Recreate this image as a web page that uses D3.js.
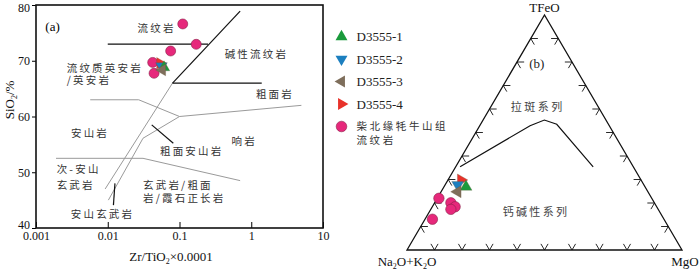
<!DOCTYPE html>
<html>
<head>
<meta charset="utf-8">
<script src="https://cdn.jsdelivr.net/npm/d3@7"></script>
<style>body{margin:0;background:#fff}</style>
</head>
<body>
<script>
// (a) Zr/TiO2 - SiO2 data
const rhyZr = [0.111, 0.171, 0.0753, 0.0423, 0.0442];
const rhySiO2 = [76.6, 72.95, 71.75, 69.7, 67.75];
const sampleNames = ["D3555-1", "D3555-2", "D3555-3", "D3555-4"];
const sampleZr = [0.0608, 0.0561, 0.0575, 0.0535];
const sampleSiO2 = [68.8, 69.06, 68.34, 69.54];

// (b) AFM data (Na2O+K2O, TFeO, MgO)
const rhyA = [0.774, 0.74, 0.733, 0.754, 0.842];
const rhyF = [0.22, 0.201, 0.184, 0.173, 0.131];
const rhyM = [0.006, 0.059, 0.083, 0.073, 0.027];
const sampleA = [0.651, 0.677, 0.692, 0.655];
const sampleF = [0.269, 0.277, 0.248, 0.298];
const sampleM = [0.08, 0.046, 0.06, 0.047];

// tholeiitic / calc-alkaline boundary
const boundaryA = [0.63, 0.288, 0.224, 0.188, 0.146];
const boundaryF = [0.354, 0.529, 0.553, 0.535, 0.354];
const boundaryM = [0.016, 0.183, 0.223, 0.277, 0.5];

// field boundaries (Winchester & Floyd)
const blackLines = [
  [[0.01, 73], [0.25, 73]],
  [[0.08, 66], [0.7, 78.9]],
  [[0.08, 66], [1.4, 66]],
  [[0.041, 58.5], [0.082, 55.2]],
  [[0.0126, 48.0], [0.012, 44.1]]
];
const grayLines = [
  [[0.08, 66], [0.0092, 47]],
  [[0.0057, 63], [0.027, 63], [0.1, 60], [5, 62]],
  [[0.0102, 45], [0.031, 56.1], [0.1, 60]],
  [[0.0019, 52.5], [0.031, 52.5], [0.7, 48.5]]
];
const xTicks = [0.001, 0.01, 0.1, 1, 10];
const xTickLabels = ["0.001", "0.01", "0.1", "1", "10"];
const yTicks = [40, 50, 60, 70, 80];

const fieldNames = ["流纹岩", "碱性流纹岩", "流纹质英安岩", "/英安岩", "粗面岩", "安山岩", "响岩",
  "粗面安山岩", "次-安山", "玄武岩", "玄武岩/粗面", "岩/霞石正长岩", "安山玄武岩"];
const fieldX = [0.048, 1.18, 0.00268, 0.00268, 2.14, 0.00566, 0.798, 0.148, 0.00194, 0.00194, 0.031, 0.031, 0.00845];
const fieldY = [75.8, 71.16, 68.7, 66.5, 63.98, 57.09, 55.6, 53.81, 50.6, 47.65, 47.75, 45.3, 42.46];
const fieldAnchor = ["middle", "middle", "start", "start", "middle", "middle", "middle", "middle", "start", "start", "start", "start", "middle"];

const colors = ["#1a9a3c", "#1c7fbf", "#7e6e5b", "#e8322a"];
const rotations = [0, 180, -90, 90];
const pink = "#e6287b";
const serif = "'Liberation Serif', 'Times New Roman', serif";
const cjk = "'Noto Sans CJK SC', sans-serif";

const svg = d3.select("body").append("svg")
  .attr("width", 700).attr("height", 270)
  .style("display", "block");

// ---------- (a) ----------
const x = d3.scaleLog().domain([0.001, 10]).range([36, 323]);
const y = d3.scaleLinear().domain([40, 80]).range([228, 5]);

const gA = svg.append("g");
const line = d3.line().x(d => x(d[0])).y(d => y(d[1]));

gA.append("g").selectAll("path").data(grayLines).join("path")
  .attr("d", line).attr("fill", "none").attr("stroke", "#9a9a9a").attr("stroke-width", 1);
gA.append("g").selectAll("path").data(blackLines).join("path")
  .attr("d", line).attr("fill", "none").attr("stroke", "#111").attr("stroke-width", 1.2);

gA.append("g")
  .attr("transform", `translate(0,${y(40)})`)
  .call(d3.axisBottom(x).tickValues(xTicks).tickFormat((d, i) => xTickLabels[i])
    .tickSizeInner(-6).tickSizeOuter(0).tickPadding(3))
  .call(g => g.select(".domain").remove())
  .call(g => g.selectAll("text").attr("font-family", serif).attr("font-size", 12).attr("fill", "#111"));

gA.append("g")
  .attr("transform", `translate(${x(0.001)},0)`)
  .call(d3.axisLeft(y).tickValues(yTicks).tickSizeInner(4).tickSizeOuter(0).tickPadding(2))
  .call(g => g.select(".domain").remove())
  .call(g => g.selectAll("text").attr("font-family", serif).attr("font-size", 12).attr("fill", "#111")
    .attr("dy", d => d === 80 ? "0.55em" : d === 40 ? "0.05em" : "0.32em"));

gA.append("rect")
  .attr("x", x(0.001)).attr("y", y(80))
  .attr("width", x(10) - x(0.001)).attr("height", y(40) - y(80))
  .attr("fill", "none").attr("stroke", "#111").attr("stroke-width", 1.6);

gA.append("text").attr("x", x(0.0017)).attr("y", y(76.23)).attr("dy", "0.35em")
  .attr("text-anchor", "middle").attr("font-family", serif).attr("font-size", 13).text("(a)");

gA.append("g").selectAll("text").data(fieldNames).join("text")
  .attr("x", (d, i) => x(fieldX[i])).attr("y", (d, i) => y(fieldY[i])).attr("dy", "0.36em")
  .attr("text-anchor", (d, i) => fieldAnchor[i])
  .attr("font-family", cjk).attr("font-size", 10.5).attr("letter-spacing", 2.2)
  .attr("fill", "#333").text(d => d);

// axis titles
const xt = gA.append("text").attr("x", 171).attr("y", 261).attr("text-anchor", "middle")
  .attr("font-family", serif).attr("font-size", 13).attr("fill", "#111");
xt.append("tspan").text("Zr/TiO");
xt.append("tspan").attr("font-size", 8).attr("dy", 3).text("2");
xt.append("tspan").attr("dy", -3).text("×0.0001");

const yt = gA.append("text").attr("transform", "translate(14,100) rotate(-90)").attr("text-anchor", "middle")
  .attr("font-family", serif).attr("font-size", 13).attr("fill", "#111");
yt.append("tspan").text("SiO");
yt.append("tspan").attr("font-size", 8).attr("dy", 3).text("2");
yt.append("tspan").attr("dy", -3).text("/%");

// points
gA.append("g").selectAll("circle").data(rhyZr).join("circle")
  .attr("cx", d => x(d)).attr("cy", (d, i) => y(rhySiO2[i])).attr("r", 5)
  .attr("fill", pink).attr("stroke", "#8a2048").attr("stroke-width", 0.6);

const tri = d3.symbol().type(d3.symbolTriangle).size(58);
const drawOrder = [3, 1, 0, 2];
gA.append("g").selectAll("path").data(drawOrder).join("path")
  .attr("d", tri)
  .attr("transform", i => `translate(${x(sampleZr[i])},${y(sampleSiO2[i])}) rotate(${rotations[i]})`)
  .attr("fill", i => colors[i]).attr("stroke", "#6b5a3a").attr("stroke-width", 0.3);

// ---------- legend ----------
const ly = d3.scalePoint().domain(d3.range(5)).range([36.7, 126.5]);
const lg = svg.append("g");
lg.selectAll("path").data(sampleNames).join("path")
  .attr("d", d3.symbol().type(d3.symbolTriangle).size(62))
  .attr("transform", (d, i) => `translate(341.5,${ly(i)}) rotate(${rotations[i]})`)
  .attr("fill", (d, i) => colors[i]);
lg.selectAll("text.name").data(sampleNames).join("text").attr("class", "name")
  .attr("x", 356.5).attr("y", (d, i) => ly(i)).attr("dy", "0.35em")
  .attr("font-family", serif).attr("font-size", 13).attr("fill", "#222").text(d => d);
lg.append("circle").attr("cx", 341.5).attr("cy", ly(4)).attr("r", 5.3)
  .attr("fill", pink).attr("stroke", "#8a2048").attr("stroke-width", 0.6);
lg.append("text").attr("x", 356.5).attr("y", ly(4)).attr("dy", "0.36em")
  .attr("font-family", cjk).attr("font-size", 10.5).attr("letter-spacing", 2.6).attr("fill", "#333")
  .text("柴北缘牦牛山组");
lg.append("text").attr("x", 356.5).attr("y", ly(4) + 13.5).attr("dy", "0.36em")
  .attr("font-family", cjk).attr("font-size", 10.5).attr("letter-spacing", 2.6).attr("fill", "#333")
  .text("流纹岩");

// ---------- (b) AFM ----------
const tx = d3.scaleLinear().domain([0, 1]).range([407, 682]);
const ty = d3.scaleLinear().domain([0, 1]).range([250, 15]);
function tp(a, f, m) {
  const s = a + f + m;
  return [tx((m + f / 2) / s), ty(f / s)];
}
const gB = svg.append("g");
gB.append("path")
  .attr("d", d3.line()([tp(1, 0, 0), tp(0, 0, 1), tp(0, 1, 0)]) + "Z")
  .attr("fill", "none").attr("stroke", "#111").attr("stroke-width", 1.3);

// chevron ticks
const tt = d3.range(1, 10).map(i => i / 10);
const dl = 0.026;
const chevrons = [];
tt.forEach(t => {
  chevrons.push([tp(1 - t - dl, dl, t), tp(1 - t, 0, t), tp(1 - t, dl, t - dl)]);
  chevrons.push([tp(1 - t - dl, t, dl), tp(1 - t, t, 0), tp(1 - t, t - dl, dl)]);
  chevrons.push([tp(dl, t, 1 - t - dl), tp(0, t, 1 - t), tp(dl, t - dl, 1 - t)]);
});
gB.append("g").selectAll("path").data(chevrons).join("path")
  .attr("d", d3.line()).attr("fill", "none").attr("stroke", "#111").attr("stroke-width", 0.9);

gB.append("path")
  .attr("d", d3.line()(boundaryA.map((a, i) => tp(a, boundaryF[i], boundaryM[i]))))
  .attr("fill", "none").attr("stroke", "#111").attr("stroke-width", 1.2);

const lab = (a, f, m) => tp(a, f, m);
gB.append("text").attr("x", lab(0.131, 0.794, 0.0746)[0]).attr("y", lab(0.131, 0.794, 0.0746)[1])
  .attr("dy", "0.35em").attr("text-anchor", "middle").attr("font-family", serif)
  .attr("font-size", 13).attr("fill", "#222").text("(b)");
gB.append("text").attr("x", lab(0.223, 0.61, 0.167)[0] + 1).attr("y", lab(0.223, 0.61, 0.167)[1])
  .attr("dy", "0.36em").attr("text-anchor", "middle").attr("font-family", cjk)
  .attr("font-size", 11).attr("letter-spacing", 2.5).attr("fill", "#444").text("拉斑系列");
gB.append("text").attr("x", lab(0.453, 0.163, 0.384)[0] + 1).attr("y", lab(0.453, 0.163, 0.384)[1])
  .attr("dy", "0.36em").attr("text-anchor", "middle").attr("font-family", cjk)
  .attr("font-size", 11).attr("letter-spacing", 2.3).attr("fill", "#444").text("钙碱性系列");

// vertex labels
gB.append("text").attr("x", tx(0.5)).attr("y", 12).attr("text-anchor", "middle")
  .attr("font-family", serif).attr("font-size", 13).attr("fill", "#111").text("TFeO");
const na = gB.append("text").attr("x", tx(0)).attr("y", 266).attr("text-anchor", "middle")
  .attr("font-family", serif).attr("font-size", 13).attr("fill", "#111");
na.append("tspan").text("Na");
na.append("tspan").attr("font-size", 8).attr("dy", 3).text("2");
na.append("tspan").attr("dy", -3).text("O+K");
na.append("tspan").attr("font-size", 8).attr("dy", 3).text("2");
na.append("tspan").attr("dy", -3).text("O");
gB.append("text").attr("x", tx(1) + 3).attr("y", 266).attr("text-anchor", "middle")
  .attr("font-family", serif).attr("font-size", 13).attr("fill", "#111").text("MgO");

gB.append("g").selectAll("circle").data(rhyA).join("circle")
  .attr("cx", (d, i) => tp(d, rhyF[i], rhyM[i])[0])
  .attr("cy", (d, i) => tp(d, rhyF[i], rhyM[i])[1])
  .attr("r", 5.2).attr("fill", pink).attr("stroke", "#8a2048").attr("stroke-width", 0.6);

gB.append("g").selectAll("path").data(drawOrder).join("path")
  .attr("d", d3.symbol().type(d3.symbolTriangle).size(62))
  .attr("transform", i => {
    const p = tp(sampleA[i], sampleF[i], sampleM[i]);
    return `translate(${p[0]},${p[1]}) rotate(${rotations[i]})`;
  })
  .attr("fill", i => colors[i]).attr("stroke", "#6b5a3a").attr("stroke-width", 0.3);
</script>
</body>
</html>
